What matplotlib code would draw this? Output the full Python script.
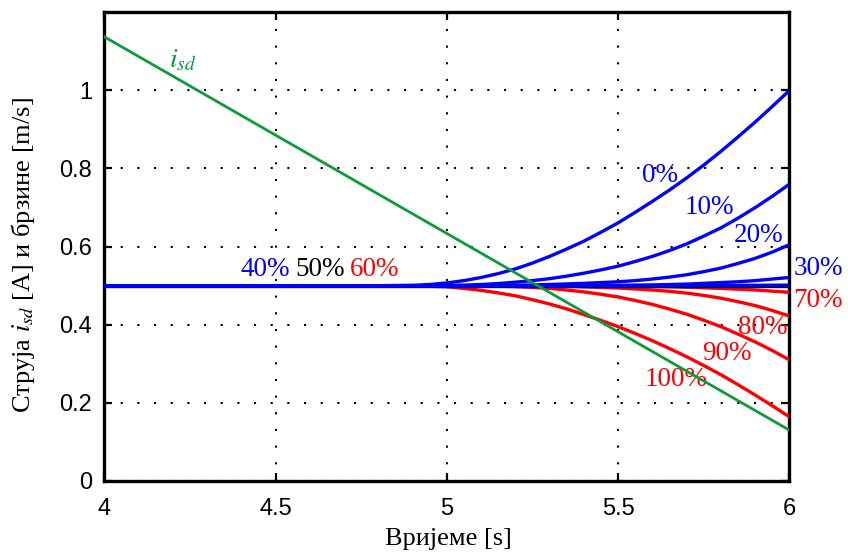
import matplotlib
matplotlib.use('Agg')
import matplotlib.pyplot as plt

plt.rcParams['font.family'] = ['Liberation Serif', 'DejaVu Serif']
plt.rcParams['mathtext.fontset'] = 'stix'

# ---------------- data ----------------
t = [4.0, 4.8, 4.9, 4.95, 5.0, 5.05, 5.1, 5.15, 5.2, 5.25, 5.3, 5.35, 5.4,
     5.45, 5.5, 5.55, 5.6, 5.65, 5.7, 5.75, 5.8, 5.85, 5.9, 5.95, 6.0]

v0 = [0.5, 0.5, 0.501, 0.503, 0.507, 0.513, 0.521, 0.531, 0.543, 0.558, 0.575,
      0.594, 0.614, 0.637, 0.661, 0.688, 0.716, 0.745, 0.776, 0.809, 0.844,
      0.881, 0.919, 0.959, 1.0]
v10 = [0.5, 0.5, 0.5, 0.5, 0.5005, 0.5015, 0.503, 0.5055, 0.509, 0.513, 0.518,
       0.5245, 0.532, 0.5405, 0.55, 0.562, 0.575, 0.590, 0.607, 0.627, 0.648,
       0.673, 0.70, 0.729, 0.76]
v20 = [0.5, 0.5, 0.5, 0.5, 0.5, 0.5, 0.5005, 0.5008, 0.501, 0.502, 0.503,
       0.5045, 0.506, 0.508, 0.51, 0.513, 0.517, 0.522, 0.528, 0.536, 0.545,
       0.557, 0.570, 0.586, 0.605]
v30 = [0.5, 0.5, 0.5, 0.5, 0.5, 0.5, 0.5, 0.5, 0.5, 0.5, 0.5,
       0.5002, 0.5005, 0.5007, 0.501, 0.5015, 0.502, 0.503, 0.504, 0.506, 0.508,
       0.510, 0.513, 0.517, 0.521]
v40 = [0.5, 0.5, 0.5, 0.5, 0.5, 0.5, 0.5, 0.5, 0.5, 0.5, 0.5,
       0.5, 0.5, 0.5, 0.5, 0.5, 0.5, 0.5, 0.5003, 0.5005, 0.5006,
       0.5008, 0.501, 0.5012, 0.5015]
v50 = [0.5, 0.5, 0.5, 0.5, 0.5, 0.5, 0.5, 0.5, 0.5, 0.5, 0.5,
       0.5, 0.5, 0.5, 0.5, 0.5, 0.5, 0.5, 0.5, 0.5, 0.5,
       0.5, 0.5, 0.5, 0.5]
v60 = [0.5, 0.5, 0.5, 0.5, 0.5, 0.5, 0.5, 0.5, 0.5, 0.5, 0.5,
       0.5, 0.5, 0.5, 0.5, 0.5, 0.5, 0.5, 0.4997, 0.4995, 0.4994,
       0.4992, 0.499, 0.4988, 0.4985]
v70 = [0.5, 0.5, 0.5, 0.5, 0.5, 0.5, 0.5, 0.5, 0.5, 0.5, 0.5,
       0.4998, 0.4995, 0.4993, 0.499, 0.4985, 0.498, 0.497, 0.496, 0.4945, 0.493,
       0.491, 0.489, 0.486, 0.483]
v80 = [0.5, 0.5, 0.5, 0.5, 0.5, 0.4999, 0.4997, 0.4995, 0.4993, 0.499, 0.4985,
       0.498, 0.497, 0.4955, 0.494, 0.4915, 0.489, 0.4855, 0.481, 0.475, 0.468,
       0.459, 0.449, 0.4365, 0.422]
v90 = [0.5, 0.5, 0.5, 0.5, 0.5, 0.4998, 0.4995, 0.4988, 0.4975, 0.4955, 0.493,
       0.4888, 0.484, 0.478, 0.471, 0.462, 0.452, 0.440, 0.427, 0.4115, 0.395,
       0.376, 0.356, 0.334, 0.31]
v100 = [0.5, 0.5, 0.4995, 0.4985, 0.497, 0.493, 0.488, 0.4815, 0.474, 0.464, 0.453,
        0.4405, 0.426, 0.411, 0.395, 0.3775, 0.359, 0.339, 0.318, 0.2955, 0.272,
        0.2465, 0.220, 0.1925, 0.164]

t_isd = [4.0, 6.0]
isd = [1.137, 0.13]

blue_series = [v0, v10, v20, v30, v40]
red_series = [v60, v70, v80, v90, v100]

c_blue = '#0000ff'
c_red = '#ff0000'
c_green = '#0e9a3a'

# ---------------- figure ----------------
fig = plt.figure(figsize=(8.48, 5.56), dpi=100)
ax = fig.add_axes([0.1231, 0.1349, 0.8079, 0.8431])

for s in red_series:
    ax.plot(t, s, color=c_red, lw=2.4, zorder=3)
ax.plot(t, v50, color='k', lw=2.4, zorder=3)
for s in blue_series:
    ax.plot(t, s, color=c_blue, lw=2.4, zorder=4)
ax.plot(t_isd, isd, color=c_green, lw=2.0, zorder=5)

ax.set_xlim(4, 6)
ax.set_ylim(0, 1.2)
ax.set_xticks([4, 4.5, 5, 5.5, 6])
ax.set_xticklabels(['4', '4.5', '5', '5.5', '6'])
ax.set_yticks([0, 0.2, 0.4, 0.6, 0.8, 1.0])
ax.set_yticklabels(['0', '0.2', '0.4', '0.6', '0.8', '1'])

for lab in ax.get_xticklabels() + ax.get_yticklabels():
    lab.set_family(['Liberation Sans', 'DejaVu Sans'])
    lab.set_fontsize(17)

ax.tick_params(direction='in', length=6, width=1.6, top=True, right=True,
               pad=9)
ax.tick_params(axis='x', pad=12)
for sp in ax.spines.values():
    sp.set_linewidth(2.4)

ax.grid(True, color='k', linestyle=(0, (1, 7)), linewidth=1.5)
ax.set_axisbelow(True)

ax.set_xlabel('Вријеме [s]', fontsize=19)
ax.xaxis.set_label_coords(0.502, -0.1)
ax.set_ylabel('Струја $i_{sd}$ [A] и брзине [m/s]', fontsize=19)
ax.yaxis.set_label_coords(-0.098, 0.482)

# curve labels
fs = 19.5
ax.text(4.23, 1.075, '$i_{sd}$', color=c_green, fontsize=20, ha='center', va='center')
ax.text(5.622, 0.783, '0%', color=c_blue, fontsize=fs, ha='center', va='center')
ax.text(5.767, 0.699, '10%', color=c_blue, fontsize=fs, ha='center', va='center')
ax.text(5.91, 0.628, '20%', color=c_blue, fontsize=fs, ha='center', va='center')
ax.text(6.012, 0.543, '30%', color=c_blue, fontsize=fs, ha='left', va='center', clip_on=False)
ax.text(6.012, 0.462, '70%', color=c_red, fontsize=fs, ha='left', va='center', clip_on=False)
ax.text(5.921, 0.393, '80%', color=c_red, fontsize=fs, ha='center', va='center')
ax.text(5.816, 0.327, '90%', color=c_red, fontsize=fs, ha='center', va='center')
ax.text(5.668, 0.26, '100%', color=c_red, fontsize=fs, ha='center', va='center')
ax.text(4.398, 0.541, '40%', color=c_blue, fontsize=fs, ha='left', va='center')
ax.text(4.557, 0.541, '50%', color='k', fontsize=fs, ha='left', va='center')
ax.text(4.716, 0.541, '60%', color=c_red, fontsize=fs, ha='left', va='center')

fig.savefig('out.png', dpi=100, facecolor='white')
